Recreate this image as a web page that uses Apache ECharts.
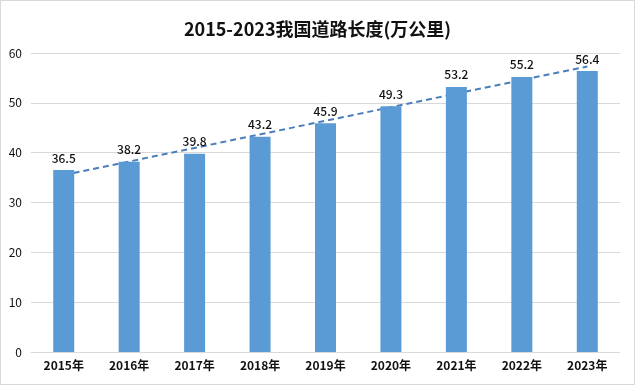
<!DOCTYPE html>
<html><head><meta charset="utf-8">
<script src="https://cdn.jsdelivr.net/npm/echarts@6/dist/echarts.min.js"></script>
<style>html,body{margin:0;padding:0;background:#fff}#c{width:635px;height:385px;box-sizing:border-box;border:1px solid #d9d9d9}</style>
</head><body><div id="c"></div>
<script>
const titleText = '2015-2023我国道路长度(万公里)';
const categories = ['2015年','2016年','2017年','2018年','2019年','2020年','2021年','2022年','2023年'];
const roadLength = [36.5, 38.2, 39.8, 43.2, 45.9, 49.3, 53.2, 55.2, 56.4];
const trendEnds = [35.5, 57.3];
const yTicks = [0, 10, 20, 30, 40, 50, 60];

const trendData = categories.map((c, i) => i === 0 ? trendEnds[0] : (i === categories.length - 1 ? trendEnds[1] : null));
const font = '"Noto Sans CJK SC", "Liberation Sans", sans-serif';
const chart = echarts.init(document.getElementById('c'), null, {renderer: 'canvas'});
chart.setOption({
  animation: false,
  backgroundColor: '#fff',
  title: {text: titleText, left: 'center', top: 14, textStyle: {fontFamily: font, fontSize: 18, fontWeight: 'bold', color: '#111'}},
  grid: {left: 30, right: 14, top: 52, bottom: 32},
  xAxis: {type: 'category', data: categories,
    axisLine: {lineStyle: {color: '#d9d9d9'}}, axisTick: {show: false},
    axisLabel: {fontFamily: font, fontSize: 12, fontWeight: 'bold', color: '#111', margin: 7}},
  yAxis: {type: 'value', min: yTicks[0], max: yTicks[yTicks.length-1], interval: 10,
    axisLine: {show: false}, axisTick: {show: false},
    splitLine: {lineStyle: {color: '#d9d9d9'}},
    axisLabel: {fontFamily: font, fontSize: 12, color: '#111', margin: 9}},
  series: [
    {type: 'line', data: trendData, connectNulls: true, symbol: 'none', z: 1,
     lineStyle: {color: '#4a7ebb', width: 2, type: [6, 4]}},
    {type: 'bar', data: roadLength, barWidth: 21, z: 2,
     itemStyle: {color: '#5b9bd5'},
     label: {show: true, position: 'top', distance: 6, fontFamily: font, fontSize: 12, fontWeight: 500, color: '#111'}}
  ]
});
</script></body></html>
